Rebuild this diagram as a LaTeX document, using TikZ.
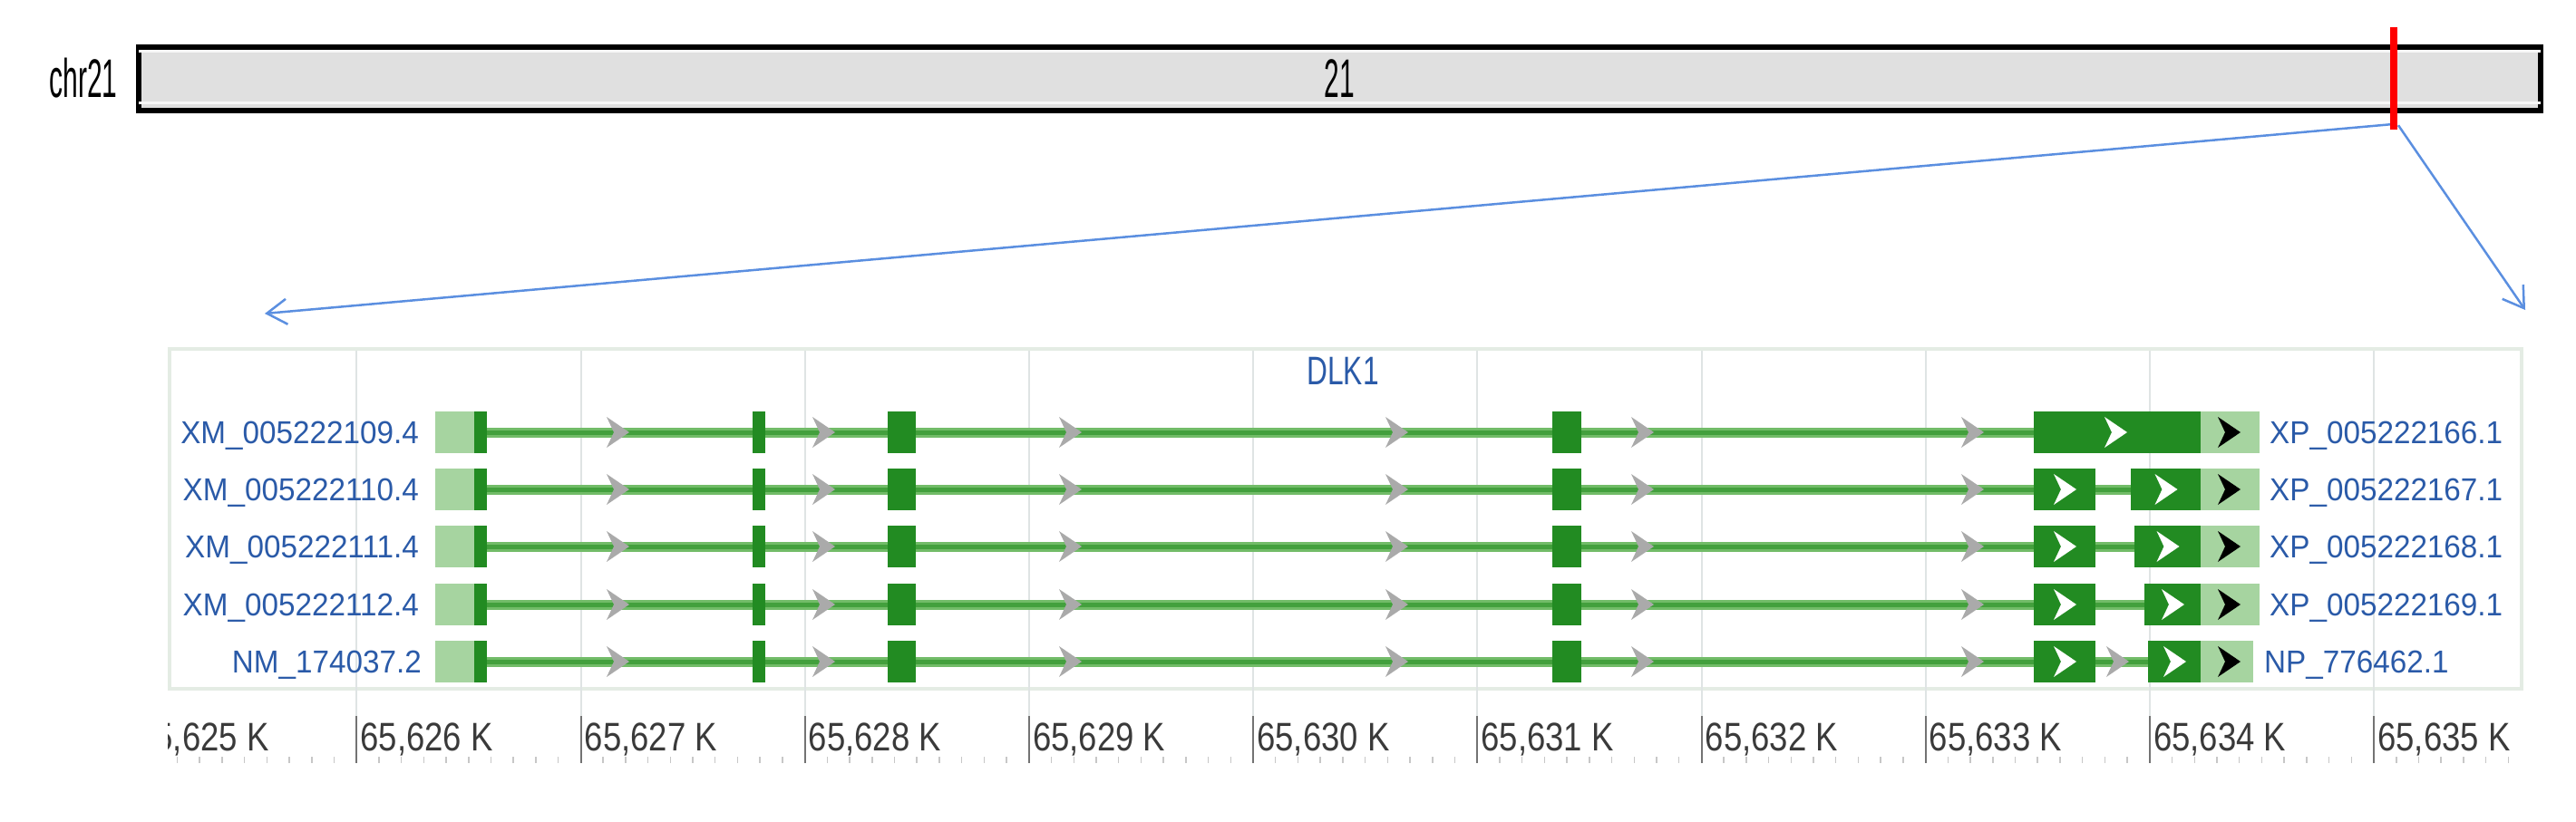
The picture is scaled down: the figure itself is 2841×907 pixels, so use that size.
\documentclass[tikz,border=0pt]{standalone}
\usepackage{fontspec}
\setmainfont{Liberation Sans}
\newfontfamily\chrfont[FakeStretch=0.5]{Liberation Sans}
\newfontfamily\axfont[FakeStretch=0.83]{Liberation Sans}
\newfontfamily\genefont[FakeStretch=0.72]{Liberation Sans}
\newfontfamily\lblfont[FakeStretch=0.95]{Liberation Sans}
\usetikzlibrary{arrows.meta}
\definecolor{exonc}{HTML}{228B22}
\definecolor{utrc}{HTML}{A6D4A0}
\definecolor{intout}{HTML}{72BC68}
\definecolor{intin}{HTML}{43A03D}
\definecolor{arrgray}{HTML}{AAAAAA}
\definecolor{lblue}{HTML}{2A5AA8}
\definecolor{conblue}{HTML}{5B8FE0}
\definecolor{gridc}{HTML}{DFE4E4}
\definecolor{panelc}{HTML}{E4ECE4}
\definecolor{barfill}{HTML}{E0E0E0}
\definecolor{axtext}{HTML}{3A3A3A}
\begin{document}
\begin{tikzpicture}[x=1pt,y=-1pt,
  chrbar/.style={draw=black, line width=6pt, fill=barfill, minimum width=2649pt, minimum height=70pt, inner sep=0pt, font=\chrfont\fontsize{60}{60}\selectfont},
  chrlbl/.style={font=\chrfont\fontsize{60}{60}\selectfont, inner sep=0pt},
  conn/.style={conblue, line width=2.5pt, -{Straight Barb[length=22pt,width=28pt,line width=2.5pt]}},
  intronO/.style={intout, line width=11pt},
  intronI/.style={intin, line width=5pt},
  lbl/.style={font=\lblfont\fontsize{35}{40}\selectfont, text=lblue, inner sep=0pt},
  genelbl/.style={font=\genefont\fontsize{44}{44}\selectfont, text=lblue, inner sep=0pt},
  axlbl/.style={font=\axfont\fontsize{44}{44}\selectfont, text=axtext, inner sep=0pt},
  chev/.pic={\path[pic actions] (-12,-17) -- (13,0) -- (-12,17) -- (-4,0) -- cycle;}
]
\useasboundingbox (0,0) rectangle (2841,907);

% chromosome ideogram
\node[chrlbl, anchor=base] (chrname) at (92,107) {chr21};
\node[chrbar] (bar) at (1477.5,87) {21};
\draw[white!94!gray, line width=3pt] ([xshift=3pt,yshift=-8pt]bar.north west) -- ([xshift=-3pt,yshift=-8pt]bar.north east);
\draw[white!94!gray, line width=3pt] ([xshift=3pt,yshift=12pt]bar.south west) -- ([xshift=-3pt,yshift=12pt]bar.south east);

% zoom connectors
\coordinate (lt) at (292,346);
\coordinate (rt) at (2785,342);
\node[fill=red, minimum width=8pt, minimum height=113pt, inner sep=0pt] (mark) at (2640,86.5) {};
\draw[conn] ([xshift=-3pt,yshift=6pt]mark.south) -- (lt);
\draw[conn] ([xshift=5pt,yshift=5pt]mark.south) -- (rt);
\node[fill=red, minimum width=8pt, minimum height=113pt, inner sep=0pt] at (mark) {};

% panel and grid
\draw[panelc, line width=4pt] (187,385) rectangle (2781,760);
\foreach \k in {0,...,9}{
  \draw[gridc, line width=2pt] ({393.3+247.2*\k},387) -- ({393.3+247.2*\k},790);
}

% axis
\begin{scope}
\clip (185,770) rectangle (2800,870);
\foreach \m in {0,...,106}{
  \draw[black!22, line width=1.5pt] ({146+24.72*\m},835) -- ({146+24.72*\m},842);
}
\foreach \k in {-1,...,9}{
  \pgfmathtruncatemacro\kn{626+\k}
  \draw[black!55, line width=2pt] ({393.3+247.2*\k},790) -- ({393.3+247.2*\k},842);
  \node[axlbl, anchor=base west] (ax\kn) at ({393.3+247.2*\k+4},828) {65,\kn{} K};
}
\end{scope}

% gene name
\node[genelbl] (gene) at (1481,409) {DLK1};

% transcripts
\foreach \y/\lname/\rname/\lx/\rx/\ue [count=\i] in {
  477/XM\_005222109.4/XP\_005222166.1/462/2503/2492,
  540/XM\_005222110.4/XP\_005222167.1/462/2503/2492,
  603/XM\_005222111.4/XP\_005222168.1/462/2503/2492,
  667/XM\_005222112.4/XP\_005222169.1/462/2503/2492,
  730/NM\_174037.2/NP\_776462.1/465/2497/2485}{
  \draw[intronO] (537,\y) -- (2427,\y);
  \draw[intronI] (537,\y) -- (2427,\y);
  \fill[utrc] (480,{\y-23}) rectangle (523,{\y+23});
  \fill[exonc] (523,{\y-23}) rectangle (537,{\y+23});
  \fill[exonc] (830,{\y-23}) rectangle (844,{\y+23});
  \fill[exonc] (979,{\y-23}) rectangle (1010,{\y+23});
  \fill[exonc] (1712,{\y-23}) rectangle (1744,{\y+23});
  \fill[utrc] (2427,{\y-23}) rectangle (\ue,{\y+23});
  \foreach \ax in {681,908,1180,1540,1811,2175}{
    \pic[fill=arrgray] at (\ax,\y) {chev};
  }
  \pic[fill=black] at (2458,\y) {chev};
  \node[lbl, anchor=base east] (L\i) at (\lx,{\y+12}) {\lname};
  \node[lbl, anchor=base west] (R\i) at (\rx,{\y+12}) {\rname};
}
% last coding exons
\fill[exonc] (2243,454) rectangle (2427,500);
\pic[fill=white] at (2333,477) {chev};
\foreach \y/\b in {540/2350,603/2354,667/2365,730/2369}{
  \fill[exonc] (2243,{\y-23}) rectangle (2311,{\y+23});
  \fill[exonc] (\b,{\y-23}) rectangle (2427,{\y+23});
  \pic[fill=white] at (2277,\y) {chev};
  \pic[fill=white] at ({(\b+2427)/2},\y) {chev};
}
\pic[fill=arrgray] at (2335,730) {chev};
\end{tikzpicture}
\end{document}
